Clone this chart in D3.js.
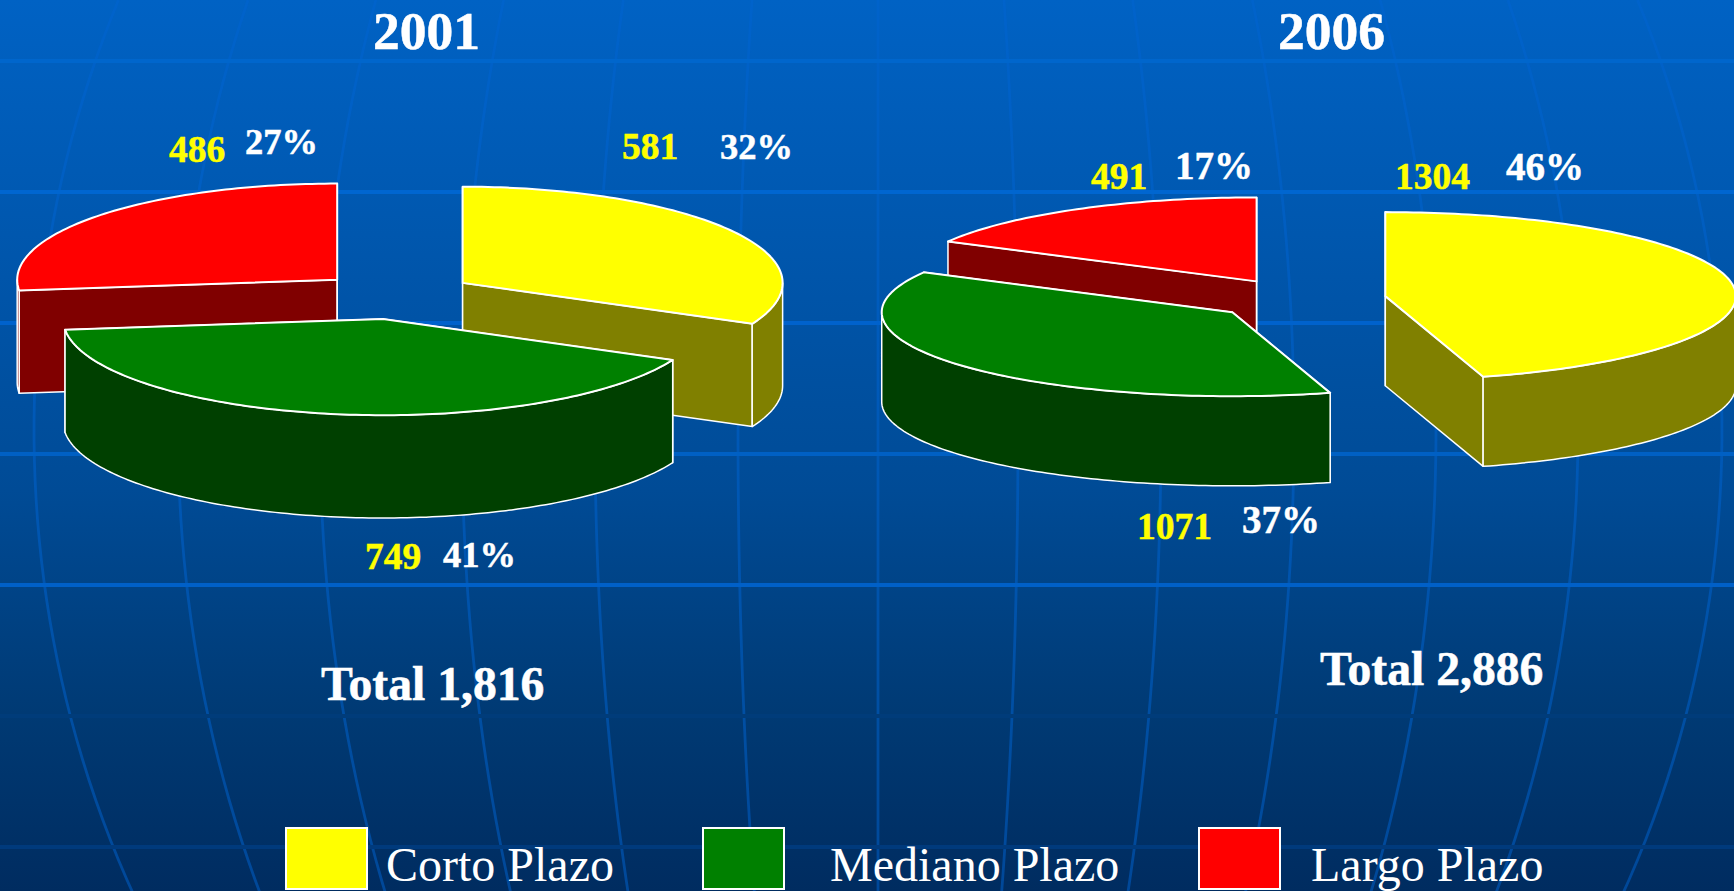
<!DOCTYPE html>
<html>
<head>
<meta charset="utf-8">
<title>Corto, Mediano y Largo Plazo</title>
<script src="https://cdn.jsdelivr.net/npm/d3@7"></script>
<style>
  html, body { margin: 0; padding: 0; background: #003068; overflow: hidden; }
  text { font-family: "Liberation Serif", "Times New Roman", serif; }
</style>
</head>
<body>
<div id="chart"></div>
<script>
const width = 1734, height = 891;

// values
const categories = ['Corto Plazo', 'Mediano Plazo', 'Largo Plazo'];
const years = ['2001', '2006'];
const values2001 = [581, 749, 486];
const values2006 = [1304, 1071, 491];
const percents2001 = ['32%', '41%', '27%'];
const percents2006 = ['46%', '37%', '17%'];
const totals = ['Total 1,816', 'Total 2,886'];

const topColor = d3.scaleOrdinal().domain(categories).range(['#ffff00', '#008000', '#ff0000']);
const sideColor = d3.scaleOrdinal().domain(categories).range(['#808000', '#004000', '#800000']);

const svg = d3.select('#chart').append('svg')
    .attr('width', width)
    .attr('height', height)
    .style('display', 'block');

// ---- background: gradient with the globe grid
const grad = svg.append('defs').append('linearGradient')
    .attr('id', 'bg')
    .attr('x1', 0).attr('y1', 0).attr('x2', 0).attr('y2', 1);
grad.append('stop').attr('offset', '0%').attr('stop-color', '#0062c4');
grad.append('stop').attr('offset', '55%').attr('stop-color', '#004b96');
grad.append('stop').attr('offset', '80%').attr('stop-color', '#003a74');
grad.append('stop').attr('offset', '100%').attr('stop-color', '#002c60');

svg.append('rect')
    .attr('width', width)
    .attr('height', height)
    .attr('fill', 'url(#bg)');

const grid = svg.append('g').attr('id', 'grid');

// meridians bulge out around the middle of the page
const globeX = 878, globeY = 430, globeR = 986;
const meridianLine = d3.line().curve(d3.curveLinear);
[-844, -700, -558, -416, -283, -140, 0, 140, 283, 416, 558, 700, 844].forEach(a => {
  const pts = d3.range(0, height + 20, 20)
    .map(y => [globeX + a * Math.sqrt(1 - ((y - globeY) / globeR) ** 2), y]);
  grid.append('path')
      .attr('d', meridianLine(pts))
      .attr('fill', 'none')
      .attr('stroke', '#0064d2')
      .attr('stroke-opacity', 0.5)
      .attr('stroke-width', 2.8);
});

// the line at 716 is almost the colour of the background, it only cuts the meridians
const parallels = d3.range(61, height, 131);
const parallelColors = ['#0066cc', '#0066d0', '#0062cc', '#0060c4', '#0060c8', '#003c7a', '#003a7c'];
grid.selectAll('line')
  .data(parallels)
  .join('line')
    .attr('x1', 0)
    .attr('x2', width)
    .attr('y1', d => d)
    .attr('y2', d => d)
    .attr('stroke', (d, i) => parallelColors[i])
    .attr('stroke-width', 4);

// ---- exploded 3D pies
const pie = d3.pie().sort(null).value(d => d.value);
const edge = d3.line();

function arcPoints(g, a0, a1, dy) {
  const n = Math.max(2, Math.ceil((a1 - a0) / 0.02));
  return d3.range(n + 1).map(i => {
    const a = a0 + (a1 - a0) * i / n;
    return [g.cx + g.rx * Math.sin(a), g.cy - g.ry * Math.cos(a) + dy];
  });
}

function drawPie(layout, values, order) {
  const data = categories.map((name, i) => ({name, value: values[i]}));
  const slices = pie(data);
  const root = svg.append('g');

  order.forEach(idx => {
    const s = slices[idx];
    const mid = (s.startAngle + s.endAngle) / 2;
    const g = {
      cx: layout.cx + layout.explode[idx] * layout.rx * Math.sin(mid),
      cy: layout.cy - layout.explode[idx] * layout.ry * Math.cos(mid),
      rx: layout.rx,
      ry: layout.ry
    };
    const d = layout.depth;
    const slice = root.append('g').attr('class', 'slice');
    const dark = sideColor(s.data.name);

    // the two cut faces, the hidden one ends up under the wall and the top
    [s.startAngle, s.endAngle].forEach(a => {
      const p = arcPoints(g, a, a, 0)[0];
      slice.append('path')
          .attr('d', edge([[g.cx, g.cy], p, [p[0], p[1] + d], [g.cx, g.cy + d]]) + 'Z')
          .attr('fill', dark)
          .attr('stroke', '#fff')
          .attr('stroke-width', 1.5)
          .attr('stroke-linejoin', 'round');
    });

    // outer wall, only the part that faces the viewer
    const w0 = Math.max(s.startAngle, Math.PI / 2);
    const w1 = Math.min(s.endAngle, Math.PI * 1.5);
    if (w1 > w0) {
      const front = arcPoints(g, w0, w1, 0);
      const back = arcPoints(g, w0, w1, d).reverse();
      slice.append('path')
          .attr('d', edge(front.concat(back)) + 'Z')
          .attr('fill', dark)
          .attr('stroke', '#fff')
          .attr('stroke-width', 1.5)
          .attr('stroke-linejoin', 'round');
    }

    // top face
    const rim = arcPoints(g, s.startAngle, s.endAngle, 0);
    slice.append('path')
        .attr('d', edge([[g.cx, g.cy]].concat(rim)) + 'Z')
        .attr('fill', topColor(s.data.name))
        .attr('stroke', '#fff')
        .attr('stroke-width', 2)
        .attr('stroke-linejoin', 'round');
  });
}

drawPie({cx: 396, cy: 295.6, rx: 320, ry: 96.2, depth: 102.8, explode: [0.2466, 0.2466, 0.2466]}, values2001, [2, 0, 1]);
drawPie({cx: 1300.5, cy: 299, rx: 350.6, ry: 84, depth: 89.6, explode: [0.2443, 0.25, 0.2443]}, values2006, [2, 1, 0]);

// ---- texts
function label(x, y, str, size, color, weight) {
  svg.append('text')
      .attr('x', x)
      .attr('y', y)
      .attr('font-size', size)
      .attr('font-weight', weight)
      .attr('fill', color)
      .attr('stroke', weight === 'bold' ? color : 'none')
      .attr('stroke-width', 0.5)
      .text(str);
}

const yearX = [373, 1278];
years.forEach((y, i) => label(yearX[i], 49, y, 53.5, '#fff', 'bold'));

const valueAt2001 = [[622, 159], [365, 569], [169, 162]];
const percentAt2001 = [[720, 159], [443, 567], [245, 154]];
const valueAt2006 = [[1395, 189], [1137, 539], [1091, 189]];
const percentAt2006 = [[1506, 180], [1242, 533], [1175, 179]];

values2001.forEach((v, i) => label(valueAt2001[i][0], valueAt2001[i][1], v, 37.5, '#ffff00', 'bold'));
percents2001.forEach((p, i) => label(percentAt2001[i][0], percentAt2001[i][1], p, 36.5, '#fff', 'bold'));
values2006.forEach((v, i) => label(valueAt2006[i][0], valueAt2006[i][1], v, 37.5, '#ffff00', 'bold'));
percents2006.forEach((p, i) => label(percentAt2006[i][0], percentAt2006[i][1], p, 39, '#fff', 'bold'));

label(321, 700, totals[0], 47.7, '#fff', 'bold');
label(1320, 685, totals[1], 47.7, '#fff', 'bold');

// ---- legend
const swatchX = [286, 703, 1199];
const legendTextX = [386, 830, 1311];
categories.forEach((c, i) => {
  svg.append('rect')
      .attr('x', swatchX[i])
      .attr('y', 828)
      .attr('width', 81)
      .attr('height', 61)
      .attr('fill', topColor(c))
      .attr('stroke', '#fff')
      .attr('stroke-width', 2);
  label(legendTextX[i], 881, c, 48, '#fff', 'normal');
});
</script>
</body>
</html>
